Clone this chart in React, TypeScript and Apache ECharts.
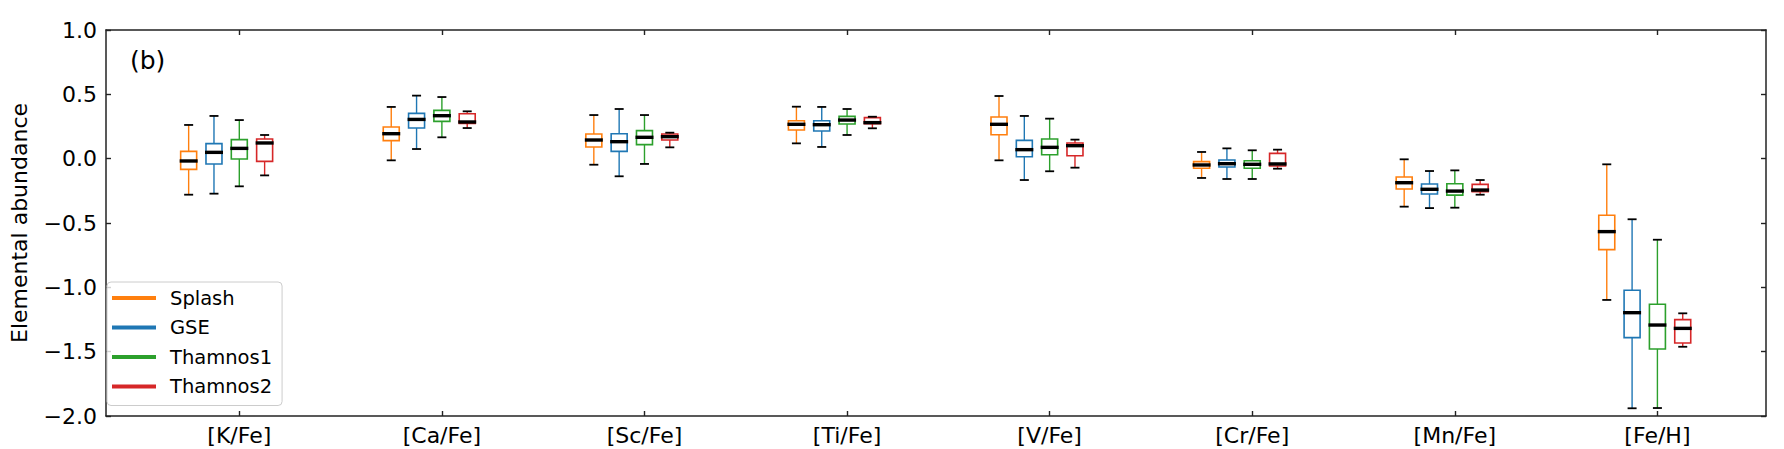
import React, { useEffect, useRef } from "react";
import * as echarts from "echarts";

const FONT = "DejaVu Sans";

const categories = ["[K/Fe]", "[Ca/Fe]", "[Sc/Fe]", "[Ti/Fe]", "[V/Fe]", "[Cr/Fe]", "[Mn/Fe]", "[Fe/H]"];
const seriesNames = ["Splash", "GSE", "Thamnos1", "Thamnos2"];
const seriesColors = ["#ff7f0e", "#1f77b4", "#2ca02c", "#d62728"];

// each row: [lower whisker, Q1, median, Q3, upper whisker]
const splash = [
  [-0.28, -0.083, -0.018, 0.057, 0.262],
  [-0.013, 0.14, 0.194, 0.246, 0.402],
  [-0.047, 0.091, 0.145, 0.192, 0.339],
  [0.119, 0.223, 0.267, 0.295, 0.404],
  [-0.013, 0.186, 0.267, 0.324, 0.487],
  [-0.15, -0.075, -0.049, -0.023, 0.052],
  [-0.373, -0.236, -0.187, -0.142, -0.005],
  [-1.098, -0.707, -0.567, -0.44, -0.044],
];
const gse = [
  [-0.272, -0.041, 0.049, 0.117, 0.332],
  [0.075, 0.238, 0.305, 0.352, 0.49],
  [-0.137, 0.057, 0.132, 0.194, 0.386],
  [0.091, 0.215, 0.264, 0.295, 0.402],
  [-0.166, 0.015, 0.07, 0.142, 0.332],
  [-0.158, -0.065, -0.039, -0.01, 0.08],
  [-0.384, -0.275, -0.238, -0.197, -0.096],
  [-1.94, -1.391, -1.197, -1.023, -0.471],
];
const thamnos1 = [
  [-0.215, -0.003, 0.08, 0.148, 0.3],
  [0.166, 0.29, 0.334, 0.375, 0.479],
  [-0.041, 0.109, 0.166, 0.218, 0.339],
  [0.184, 0.269, 0.3, 0.329, 0.386],
  [-0.098, 0.031, 0.088, 0.153, 0.311],
  [-0.158, -0.075, -0.044, -0.016, 0.065],
  [-0.381, -0.283, -0.252, -0.195, -0.091],
  [-1.938, -1.479, -1.293, -1.132, -0.63],
];
const thamnos2 = [
  [-0.13, -0.021, 0.122, 0.153, 0.184],
  [0.238, 0.274, 0.285, 0.349, 0.368],
  [0.088, 0.145, 0.171, 0.192, 0.202],
  [0.236, 0.272, 0.28, 0.319, 0.326],
  [-0.07, 0.023, 0.101, 0.122, 0.148],
  [-0.078, -0.057, -0.041, 0.041, 0.07],
  [-0.28, -0.257, -0.244, -0.2, -0.166],
  [-1.462, -1.433, -1.319, -1.251, -1.202],
];

const allData = [splash, gse, thamnos1, thamnos2];
const boxOffsets = [-0.25, -0.125, 0, 0.125];
const catPositions = categories.map((_, i) => i);
const X_MIN = -0.658;
const X_MAX = 7.536;

const AXIS_COLOR = "#222";

function fmtY(v: number) {
  const s = Math.abs(v).toFixed(1);
  return v < 0 ? "\u2212" + s : s;
}

const renderItem = (params: any, api: any) => {
  const x = api.value(0);
  const low = api.coord([x, api.value(1)]);
  const q1 = api.coord([x, api.value(2)]);
  const med = api.coord([x, api.value(3)]);
  const q3 = api.coord([x, api.value(4)]);
  const high = api.coord([x, api.value(5)]);
  const color = api.visual("color");
  const cx = low[0];
  const bw = 16;
  const cw = 9;
  return {
    type: "group",
    children: [
      { type: "line", shape: { x1: cx, y1: q3[1], x2: cx, y2: high[1] }, style: { stroke: color, lineWidth: 1.4 } },
      { type: "line", shape: { x1: cx, y1: q1[1], x2: cx, y2: low[1] }, style: { stroke: color, lineWidth: 1.4 } },
      {
        type: "rect",
        shape: { x: cx - bw / 2, y: q3[1], width: bw, height: q1[1] - q3[1] },
        style: { fill: "none", stroke: color, lineWidth: 1.6 },
      },
      { type: "line", shape: { x1: cx - cw / 2, y1: high[1], x2: cx + cw / 2, y2: high[1] }, style: { stroke: "#000", lineWidth: 1.8 } },
      { type: "line", shape: { x1: cx - cw / 2, y1: low[1], x2: cx + cw / 2, y2: low[1] }, style: { stroke: "#000", lineWidth: 1.8 } },
      { type: "line", shape: { x1: cx - bw / 2 - 1, y1: med[1], x2: cx + bw / 2 + 1, y2: med[1] }, style: { stroke: "#000", lineWidth: 3.4 } },
    ],
  };
};

export default function App() {
  const ref = useRef<HTMLDivElement>(null);
  useEffect(() => {
    document.body.style.margin = "0";
    if (!ref.current) return;
    const chart = echarts.init(ref.current, null, { renderer: "svg" });
    const xAxisBase = {
      type: "value",
      min: X_MIN,
      max: X_MAX,
      axisLine: { show: true, onZero: false, lineStyle: { color: AXIS_COLOR, width: 1.5 } },
      axisTick: { show: true, inside: true, length: 5, customValues: catPositions, lineStyle: { color: AXIS_COLOR, width: 1.4 } },
      splitLine: { show: false },
    };
    const yAxisBase = {
      type: "value",
      min: -2,
      max: 1,
      interval: 0.5,
      axisLine: { show: true, onZero: false, lineStyle: { color: AXIS_COLOR, width: 1.5 } },
      axisTick: { show: true, inside: true, length: 5, lineStyle: { color: AXIS_COLOR, width: 1.4 } },
      splitLine: { show: false },
    };
    const option: any = {
      animation: false,
      color: seriesColors,
      textStyle: { fontFamily: FONT },
      grid: { left: 97, top: 30, width: 1669, height: 386, containLabel: false },
      xAxis: [
        {
          ...xAxisBase,
          position: "bottom",
          axisLabel: {
            show: true,
            customValues: catPositions,
            formatter: (v: number) => categories[Math.round(v)],
            fontSize: 22,
            fontFamily: FONT,
            color: "#000",
            margin: 8,
          },
        },
        { ...xAxisBase, position: "top", axisLabel: { show: false } },
      ],
      yAxis: [
        {
          ...yAxisBase,
          position: "left",
          name: "Elemental abundance",
          nameLocation: "middle",
          nameRotate: 90,
          nameGap: 76,
          nameTextStyle: { fontSize: 22, fontFamily: FONT, color: "#000" },
          axisLabel: { show: true, formatter: fmtY, fontSize: 22, fontFamily: FONT, color: "#000", margin: 9 },
        },
        { ...yAxisBase, position: "right", axisLabel: { show: false } },
      ],
      legend: {
        orient: "vertical",
        left: 107,
        top: 282,
        data: seriesNames.map((n) => ({ name: n, icon: "rect" })),
        itemWidth: 44,
        itemHeight: 4,
        itemGap: 5.5,
        padding: [4, 10, 7, 5],
        borderColor: "#cccccc",
        borderWidth: 1,
        borderRadius: 4,
        backgroundColor: "rgba(255,255,255,0.8)",
        selectedMode: false,
        textStyle: { fontSize: 19.5, fontFamily: FONT, color: "#000", lineHeight: 24, padding: [0, 0, 0, 9] },
      },
      graphic: [
        {
          type: "text",
          x: 130,
          y: 60,
          style: { text: "(b)", fontSize: 25, fontFamily: FONT, fill: "#000", verticalAlign: "middle", align: "left" },
        },
      ],
      series: seriesNames.map((name, j) => ({
        type: "custom",
        name,
        xAxisIndex: 0,
        yAxisIndex: 0,
        itemStyle: { color: seriesColors[j] },
        renderItem,
        clip: false,
        encode: { x: 0, y: [1, 2, 3, 4, 5] },
        data: allData[j].map((d, i) => [i + boxOffsets[j], ...d]),
      })),
    };
    chart.setOption(option);
    return () => chart.dispose();
  }, []);
  return <div ref={ref} style={{ width: 1784, height: 449 }} />;
}
